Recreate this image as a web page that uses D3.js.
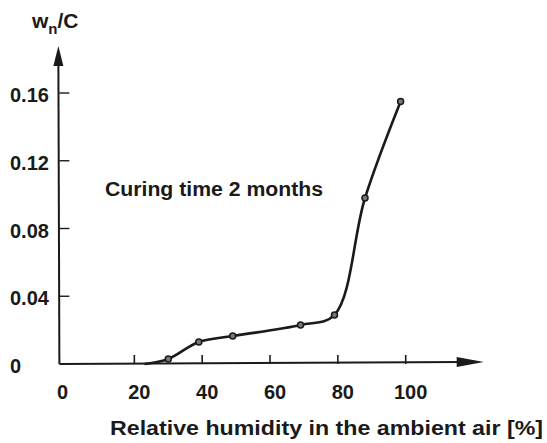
<!DOCTYPE html>
<html>
<head>
<meta charset="utf-8">
<script src="https://cdn.jsdelivr.net/npm/d3@7"></script>
<style>
  html, body { margin: 0; padding: 0; background: #fff; }
  svg { display: block; }
  text { font-family: "Liberation Sans", Arial, sans-serif; font-weight: bold; fill: #1a1a1a; }
</style>
</head>
<body>
<script>
// ---- data ----
const humidity = [23, 30, 39, 49, 69, 79, 88, 98.5];           // % relative humidity
const wnC      = [0, 0.003, 0.013, 0.0165, 0.023, 0.029, 0.098, 0.155];
const marked   = [false, true, true, true, true, true, true, true];
const xTicks   = [0, 20, 40, 60, 80, 100];
const yTicks   = [0, 0.04, 0.08, 0.12, 0.16];
const yTickLabels = ["0", "0.04", "0.08", "0.12", "0.16"];
const xTitle   = "Relative humidity in the ambient air [%]";
const note     = "Curing time 2 months";

const W = 547, H = 443;
const svg = d3.select("body").append("svg").attr("width", W).attr("height", H);

const x = d3.scaleLinear().domain([0, 100]).range([66.5, 405.7]);
const y = d3.scaleLinear().domain([0, 0.16]).range([364, 93]);

const ink = "#1a1a1a";
const axisX0 = x(-2.1);       // y-axis position (slightly left of x=0)
const xEnd = x(123);          // x arrow tip
const yEnd = y(0.1877);       // y arrow tip

// axes lines
svg.append("line").attr("x1", axisX0).attr("y1", y(0)).attr("x2", xEnd - 20).attr("y2", y(0.0012))
  .attr("stroke", ink).attr("stroke-width", 2);
svg.append("line").attr("x1", axisX0).attr("y1", y(0)).attr("x2", axisX0 - 1).attr("y2", yEnd + 16)
  .attr("stroke", ink).attr("stroke-width", 2);
// arrowheads
svg.append("path")
  .attr("d", `M${xEnd},${y(0.0012)} L${xEnd - 27},${y(0.0012) - 5} L${xEnd - 27},${y(0.0012) + 5} Z`)
  .attr("fill", ink);
svg.append("path")
  .attr("d", `M${axisX0 - 1},${yEnd} L${axisX0 - 6},${yEnd + 20} L${axisX0 + 4},${yEnd + 20} Z`)
  .attr("fill", ink);

// x ticks (upward)
svg.selectAll(".xt").data(xTicks.filter(d => d > 0)).enter().append("line")
  .attr("x1", d => x(d)).attr("x2", d => x(d))
  .attr("y1", y(0)).attr("y2", y(0) - 9)
  .attr("stroke", ink).attr("stroke-width", 1.6);
svg.selectAll(".xl").data(xTicks).enter().append("text")
  .attr("x", d => d === 0 ? x(d) - 4 : x(d) + 5)
  .attr("y", 399)
  .attr("text-anchor", "middle")
  .attr("font-size", 20)
  .text(d => d);

// y ticks (rightward)
svg.selectAll(".yt").data(yTicks.filter(d => d > 0)).enter().append("line")
  .attr("x1", axisX0).attr("x2", axisX0 + 10)
  .attr("y1", d => y(d)).attr("y2", d => y(d))
  .attr("stroke", ink).attr("stroke-width", 1.4);
svg.selectAll(".yl").data(yTicks).enter().append("text")
  .attr("x", 10)
  .attr("y", d => y(d) + 9)
  .attr("text-anchor", "start")
  .attr("font-size", 20)
  .text((d, i) => yTickLabels[i]);

// y axis label w_n/C
const yl = svg.append("text").attr("x", 32).attr("y", 28).attr("font-size", 21);
yl.append("tspan").text("w");
yl.append("tspan").attr("font-size", 15).attr("dy", 6).text("n");
yl.append("tspan").attr("dy", -6).text("/C");

// x title
svg.append("text").attr("x", 110).attr("y", 435).attr("font-size", 20)
  .attr("textLength", 433).attr("lengthAdjust", "spacingAndGlyphs").text(xTitle);

// note
svg.append("text").attr("x", 105).attr("y", 196).attr("font-size", 20)
  .attr("textLength", 218).attr("lengthAdjust", "spacingAndGlyphs").text(note);

// curve
const pts = humidity.map((h, i) => ({ h, v: wnC[i], m: marked[i] }));
const line = d3.line().x(d => x(d.h)).y(d => y(d.v)).curve(d3.curveCatmullRom.alpha(0.5));
svg.append("path").datum(pts).attr("d", line)
  .attr("fill", "none").attr("stroke", ink).attr("stroke-width", 2.6);

svg.selectAll(".pt").data(pts.filter(d => d.m)).enter().append("circle")
  .attr("cx", d => x(d.h)).attr("cy", d => y(d.v)).attr("r", 3)
  .attr("fill", "#777").attr("stroke", ink).attr("stroke-width", 1.5);
</script>
</body>
</html>
